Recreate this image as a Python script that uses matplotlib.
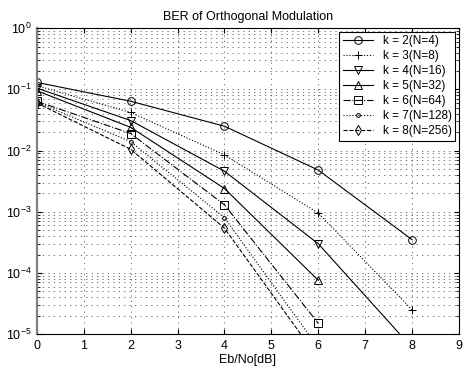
import numpy as np
import matplotlib
matplotlib.use("Agg")
import matplotlib.pyplot as plt

plt.rcParams['font.family'] = ['Liberation Sans', 'DejaVu Sans']
plt.rcParams['mathtext.fontset'] = 'custom'
plt.rcParams['mathtext.rm'] = 'Liberation Sans'

# Eb/No points (dB)
ebno = [0, 2, 4, 6, 8]

# BER (nan = not drawn)
ber_k2 = [0.13, 0.064, 0.025, 0.0048, 3.5e-4]
ber_k3 = [0.115, 0.042, 0.0085, 9.5e-4, 2.5e-5]
ber_k4 = [0.105, 0.031, 0.0046, 3.0e-4, 6e-6]
ber_k5 = [0.095, 0.024, 0.0024, 7.6e-5, np.nan]
ber_k6 = [0.064, 0.019, 0.0013, 1.5e-5, np.nan]
ber_k7 = [0.062, 0.014, 8e-4, 6e-6, np.nan]
ber_k8 = [0.060, 0.0105, 5.4e-4, 4e-6, np.nan]

labels = ['k = 2(N=4)', 'k = 3(N=8)', 'k = 4(N=16)', 'k = 5(N=32)',
          'k = 6(N=64)', 'k = 7(N=128)', 'k = 8(N=256)']
series = [ber_k2, ber_k3, ber_k4, ber_k5, ber_k6, ber_k7, ber_k8]
styles = ['-o', ':+', '-v', '-^', '-.s', ':.', '--d']

fig = plt.figure(figsize=(4.66, 3.66), dpi=100)
ax = fig.add_axes([0.079, 0.087, 0.906, 0.836])

for y, st, lab in zip(series, styles, labels):
    ax.semilogy(ebno, y, st, color='black', linewidth=0.8, markersize=5.5,
                markerfacecolor='none', markeredgewidth=0.7, label=lab)

ax.set_xlim(0, 9)
ax.set_ylim(1e-5, 1)
ax.set_xticks(range(10))
ax.grid(True, which='both', linestyle=(0, (1.5, 5)), color='0.35', linewidth=0.6)
ax.tick_params(direction='in', which='both', top=True, right=True, labelsize=9)
ax.tick_params(axis='x', pad=4)
for s in ax.spines.values():
    s.set_linewidth(0.8)
ax.spines['left'].set_linewidth(1.6)
ax.spines['left'].set_color('0.5')

ax.set_title('BER of Orthogonal Modulation', fontsize=9, pad=6)
ax.set_xlabel('Eb/No[dB]', fontsize=9, labelpad=2)

leg = ax.legend(loc='upper right', fontsize=8.5, frameon=True, fancybox=False,
                edgecolor='black', handlelength=2.6, borderpad=0.3,
                labelspacing=0.25, borderaxespad=0.3, framealpha=1)
leg.get_frame().set_linewidth(0.8)

fig.savefig('out.png', dpi=100)
